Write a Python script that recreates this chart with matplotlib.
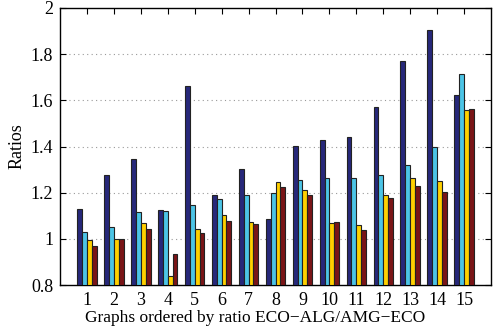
import matplotlib
matplotlib.use('Agg')
import matplotlib.pyplot as plt
import numpy as np

# graph index (ordered by ratio ECO-ALG/AMG-ECO)
graphs = list(range(1, 16))

# ratio series, one value per graph
series_a = [1.131, 1.278, 1.345, 1.126, 1.664, 1.191, 1.301, 1.087, 1.402, 1.427,
            1.441, 1.571, 1.771, 1.906, 1.622]
series_b = [1.028, 1.053, 1.116, 1.121, 1.147, 1.171, 1.191, 1.200, 1.254, 1.262,
            1.262, 1.275, 1.320, 1.399, 1.713]
series_c = [0.995, 0.998, 1.070, 0.839, 1.041, 1.102, 1.074, 1.245, 1.213, 1.070,
            1.059, 1.189, 1.262, 1.252, 1.557]
series_d = [0.968, 0.998, 1.044, 0.934, 1.024, 1.079, 1.063, 1.223, 1.189, 1.074,
            1.037, 1.177, 1.230, 1.202, 1.563]

y_ticks = [0.8, 1, 1.2, 1.4, 1.6, 1.8, 2]
y_tick_labels = ['0.8', '1', '1.2', '1.4', '1.6', '1.8', '2']

plt.rcParams['font.family'] = ['Liberation Serif', 'DejaVu Serif']

fig = plt.figure(figsize=(4.94, 3.27), dpi=100)
ax = fig.add_axes([60 / 494, 42 / 327, 431 / 494, 277 / 327])

colors = ['#27287a', '#4cc4e6', '#ffd000', '#7a1517']
all_series = [series_a, series_b, series_c, series_d]
width = 0.18
x = np.array(graphs)
base = 0.8
for i, (vals, col) in enumerate(zip(all_series, colors)):
    offset = (i - 1.5) * width
    ax.bar(x + offset, np.array(vals) - base, width, bottom=base, color=col,
           edgecolor='#222222', linewidth=0.8, zorder=3)

ax.set_xlim(0, 16)
ax.set_ylim(0.8, 2)
ax.set_xticks(graphs)
ax.set_xticklabels([str(g) for g in graphs])
ax.set_yticks(y_ticks)
ax.set_yticklabels(y_tick_labels)

# horizontal dotted grid like the original
for yv in y_ticks[1:-1]:
    ax.axhline(yv, color='#999999', linestyle=(0, (1, 3)), linewidth=0.8, zorder=1)

ax.tick_params(direction='in', top=True, right=True, length=4, width=0.8,
               labelsize=13, pad=5)
for s in ax.spines.values():
    s.set_linewidth(1.0)

ax.set_ylabel('Ratios', fontsize=13)
ax.yaxis.set_label_coords(-0.079, 0.5)
ax.set_xlabel('Graphs ordered by ratio ECO\u2212ALG/AMG\u2212ECO', fontsize=12.5)
ax.xaxis.set_label_coords(0.452, -0.09)

fig.savefig('out.png', dpi=100)
